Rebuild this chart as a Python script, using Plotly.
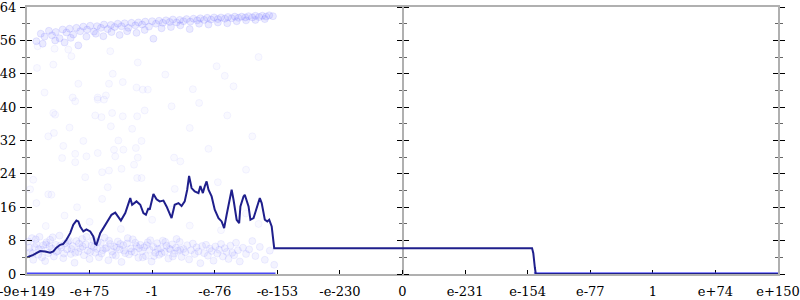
import plotly.graph_objects as go

# ---------------- data ----------------
tick_vals = list(range(13))
tick_text = ["-9e+149", "-e+75", "-1", "-e-76", "-e-153", "-e-230", "0",
             "e-231", "e-154", "e-77", "1", "e+74", "e+150"]

line_x = [0.005, 0.10, 0.21, 0.29, 0.37, 0.42, 0.47, 0.53, 0.58, 0.63, 0.69, 0.74, 0.79, 0.82,
          0.85, 0.90, 0.95, 1.01, 1.06, 1.09, 1.11, 1.17, 1.22, 1.27, 1.35, 1.41, 1.46, 1.50,
          1.57, 1.62, 1.65, 1.68, 1.75, 1.81, 1.86, 1.90, 1.94, 1.96, 2.02, 2.07, 2.12, 2.18,
          2.23, 2.31, 2.36, 2.42, 2.47, 2.52, 2.56, 2.59, 2.63, 2.68, 2.74, 2.77, 2.81, 2.84,
          2.87, 2.90, 2.95, 3.00, 3.06, 3.11, 3.15, 3.19, 3.24, 3.27, 3.30, 3.35, 3.39, 3.41,
          3.46, 3.48, 3.54, 3.57, 3.62, 3.66, 3.70, 3.72, 3.75, 3.80, 3.84, 3.87, 3.91, 3.93,
          3.95, 8.07, 8.09, 8.115, 8.13, 12.0]
line_y = [4.0, 4.6, 5.5, 5.4, 5.1, 5.4, 6.3, 7.0, 7.2, 8.2, 9.8, 11.8, 12.8, 12.6,
          11.4, 10.2, 10.7, 10.2, 9.0, 7.2, 7.0, 9.8, 11.0, 12.2, 14.2, 14.7, 13.6, 12.8,
          14.6, 17.1, 18.2, 16.6, 17.4, 16.6, 14.6, 14.2, 15.8, 15.4, 19.2, 17.9, 17.4, 17.6,
          16.2, 13.4, 16.6, 17.0, 16.3, 17.4, 20.2, 23.5, 20.6, 19.8, 19.4, 21.1, 19.4, 21.0,
          22.2, 20.2, 18.6, 15.4, 13.4, 12.6, 11.0, 14.2, 18.6, 20.2, 17.8, 13.0, 12.2, 16.2,
          18.6, 19.0, 16.2, 13.0, 13.4, 15.4, 17.8, 18.2, 17.0, 13.0, 12.6, 13.0, 11.4, 8.2,
          6.2, 6.2, 5.0, 1.5, 0.0, 0.0]

# upper cluster of samples
top_x = [0.15, 0.22, 0.28, 0.35, 0.40, 0.46, 0.52, 0.57, 0.63, 0.68, 0.74, 0.79, 0.85, 0.90,
         0.96, 1.01, 1.07, 1.12, 1.18, 1.23, 1.29, 1.34, 1.40, 1.45, 1.51, 1.56, 1.62, 1.67,
         1.73, 1.78, 1.84, 1.89, 1.95, 2.00, 2.06, 2.11, 2.17, 2.22, 2.28, 2.33, 2.39, 2.44,
         2.50, 2.55, 2.61, 2.66, 2.72, 2.77, 2.83, 2.88, 2.94, 2.99, 3.05, 3.10, 3.16, 3.21,
         3.27, 3.32, 3.38, 3.43, 3.49, 3.54, 3.60, 3.65, 3.71, 3.76, 3.82, 3.87, 3.93,
         0.25, 0.45, 0.60, 0.70, 0.82, 0.95, 1.10, 1.22, 1.35, 1.48, 1.60, 1.75, 1.88, 2.02,
         2.15, 2.30, 2.45, 2.60, 2.75, 2.90, 3.05, 3.20, 3.35, 3.50, 3.65, 3.80]
top_y = [55.8, 57.6, 56.9, 58.3, 57.2, 58.0, 56.5, 58.6, 57.9, 58.8, 57.4, 59.0, 58.2, 59.3,
         58.6, 59.5, 58.1, 59.4, 59.0, 59.8, 58.7, 59.7, 59.2, 60.0, 59.4, 60.1, 59.0, 60.2,
         59.6, 60.3, 59.8, 60.5, 59.3, 60.6, 60.0, 60.7, 60.2, 60.8, 60.4, 61.0, 60.3, 60.9,
         60.6, 61.1, 60.5, 61.2, 60.8, 61.3, 60.9, 61.4, 61.0, 61.5, 61.1, 61.5, 61.2, 61.6,
         61.3, 61.7, 61.4, 61.7, 61.5, 61.8, 61.5, 61.9, 61.6, 61.9, 61.7, 62.0, 61.8,
         55.2, 56.0, 55.5, 56.6, 54.8, 56.9, 57.6, 57.0, 58.0, 57.3, 58.2, 57.8, 58.5, 56.4,
         58.9, 59.2, 59.6, 58.7, 60.0, 59.8, 60.3, 60.1, 60.6, 60.8, 60.9, 61.1]

# sparse samples in the middle
mid_x = [0.16, 0.17, 0.42, 0.28, 0.44, 0.66, 0.71, 0.82, 0.73, 1.13, 1.26, 1.31, 1.37, 1.33,
         1.77, 1.53, 1.75, 1.93, 1.85, 2.21, 2.65, 3.03, 3.16, 0.77, 0.42, 0.45, 0.34, 0.43,
         0.68, 0.58, 0.90, 0.77, 0.77, 0.56, 0.95, 1.13, 1.09, 1.19, 1.36, 1.34, 1.46, 1.39,
         1.54, 1.41, 1.51, 1.31, 1.20, 0.93, 1.29, 1.53, 1.76, 1.68, 1.83, 1.74, 1.77, 1.71,
         1.76, 1.83, 1.88, 2.31, 2.35, 2.36, 0.10, 0.05, 0.34, 0.39, 1.23, 1.13, 2.60, 2.90,
         3.20, 3.50, 3.30, 3.70, 2.45, 3.05, 2.75, 3.60, 0.30, 0.60, 1.00, 1.50, 2.00, 2.60,
         3.10, 3.50, 0.15, 1.20, 0.80, 2.30, 3.70]
mid_y = [49.4, 54.6, 50.2, 43.5, 54.0, 53.8, 52.2, 45.6, 42.3, 42.3, 42.8, 45.6, 48.0, 53.4,
         50.7, 46.0, 44.7, 44.2, 44.2, 47.8, 44.3, 49.8, 47.5, 41.4, 38.6, 38.2, 33.0, 33.8,
         35.1, 30.7, 31.9, 28.8, 26.8, 27.8, 28.2, 29.0, 38.0, 37.6, 38.6, 35.4, 32.0, 29.8,
         29.8, 28.2, 25.2, 24.8, 24.4, 23.2, 20.8, 37.8, 37.8, 34.8, 31.9, 30.2, 27.9, 26.2,
         23.0, 23.0, 39.2, 40.2, 27.9, 20.4, 22.6, 20.3, 19.1, 19.0, 41.8, 41.8, 35.0, 30.0,
         38.0, 25.0, 45.0, 52.0, 27.0, 22.0, 41.0, 33.0, 11.5, 14.0, 12.5, 10.8, 13.0, 11.6,
         10.5, 14.5, 17.0, 18.0, 16.0, 15.5, 12.0]

# lower cluster of samples
low_x = [0.02, 0.05, 0.08, 0.10, 0.12, 0.15, 0.18, 0.20, 0.23, 0.26, 0.29, 0.31, 0.34, 0.37,
         0.40, 0.43, 0.46, 0.49, 0.52, 0.55, 0.58, 0.61, 0.64, 0.67, 0.70, 0.73, 0.76, 0.79,
         0.82, 0.85, 0.88, 0.91, 0.94, 0.97, 1.00, 1.03, 1.06, 1.09, 1.12, 1.15, 1.18, 1.21,
         1.24, 1.27, 1.30, 1.33, 1.36, 1.39, 1.42, 1.45, 1.48, 1.51, 1.54, 1.57, 1.60, 1.63,
         1.66, 1.69, 1.72, 1.75, 1.78, 1.81, 1.84, 1.87, 1.90, 1.93, 1.96, 1.99, 2.02, 2.05,
         2.08, 2.11, 2.14, 2.17, 2.20, 2.23, 2.26, 2.29, 2.32, 2.35, 2.38, 2.41, 2.44, 2.47,
         2.50, 2.53, 2.56, 2.59, 2.62, 2.65, 2.68, 2.71, 2.74, 2.77, 2.80, 2.83, 2.86, 2.89,
         2.92, 2.95, 2.98, 3.01, 3.04, 3.07, 3.10, 3.13, 3.16, 3.19, 3.22, 3.25, 3.28, 3.31,
         3.34, 3.37, 3.40, 3.45, 3.50, 3.55, 3.60, 3.65, 3.72, 3.80, 3.88, 3.95,
         0.04, 0.09, 0.14, 0.19, 0.24, 0.30, 0.36, 0.41, 0.47, 0.53, 0.59, 0.65, 0.71, 0.77,
         0.83, 0.89, 0.95, 1.01, 1.07, 1.13, 1.19, 1.25, 1.31, 1.37, 1.43, 1.49, 1.55, 1.61,
         1.67, 1.73, 1.79, 1.85, 1.91, 1.97, 2.03, 2.09, 2.15, 2.21, 2.27, 2.33, 2.39, 2.45]
low_y = [7.8, 5.2, 8.6, 3.4, 6.5, 7.2, 4.6, 8.9, 5.8, 6.9, 3.1, 7.6, 5.0, 8.2,
         6.1, 4.2, 7.0, 5.5, 9.2, 6.4, 3.8, 7.4, 5.9, 8.0, 4.8, 6.7, 2.7, 7.9,
         5.3, 6.2, 8.4, 4.5, 7.1, 5.6, 3.6, 6.8, 8.1, 5.1, 6.0, 4.0, 7.5, 5.7,
         8.7, 6.3, 3.3, 7.2, 5.4, 6.6, 4.4, 7.8, 5.9, 2.9, 6.9, 5.0, 7.3, 4.7,
         6.1, 8.3, 5.2, 6.7, 3.9, 7.0, 5.5, 6.4, 4.3, 7.6, 5.8, 3.0, 6.5, 5.1,
         7.4, 4.6, 6.2, 8.0, 5.3, 6.8, 3.7, 5.9, 7.1, 4.9, 6.3, 5.6, 7.7, 4.1,
         6.0, 5.2, 6.9, 3.5, 5.7, 7.3, 4.8, 6.4, 5.4, 2.6, 6.7, 5.0, 7.0, 4.4,
         6.1, 5.5, 3.2, 6.6, 4.9, 5.8, 7.2, 4.2, 6.2, 5.3, 3.6, 6.8, 5.1, 4.5,
         7.5, 5.7, 3.0, 6.3, 4.8, 5.9, 7.9, 4.3, 6.5, 3.4, 5.6, 2.2,
         6.3, 4.9, 8.3, 6.0, 4.0, 7.1, 6.6, 8.8, 5.3, 6.8, 4.9, 7.7, 6.0, 5.1,
         7.3, 6.6, 8.9, 5.3, 6.5, 7.7, 4.9, 6.1, 8.0, 4.6, 6.3, 7.2, 5.6, 8.6,
         5.4, 7.5, 6.2, 4.0, 6.9, 8.1, 4.3, 6.0, 5.0, 7.7, 6.1, 4.2, 8.4, 5.8]

# samples sitting exactly at zero
zero_left_x = [0.0, 3.97]
zero_right_x = [8.10, 12.0]
zero_y = [0.0, 0.0]

# ---------------- figure ----------------
FONT = dict(family="DejaVu Serif", size=13, color="black")
AXIS_GRAY = "#b0b0b0"


def pts(fill_a, edge_a):
    return dict(size=7, color=f"rgba(90,90,255,{fill_a})",
                line=dict(width=1, color=f"rgba(80,80,255,{edge_a})"))


fig = go.Figure()
for xs, ys, mk in [(top_x, top_y, pts(0.12, 0.12)),
                   (mid_x, mid_y, pts(0.035, 0.06)),
                   (low_x, low_y, pts(0.07, 0.08))]:
    fig.add_trace(go.Scatter(x=xs, y=ys, mode="markers", marker=mk,
                             hoverinfo="skip", showlegend=False, cliponaxis=False))
fig.add_trace(go.Scatter(x=zero_left_x, y=zero_y, mode="lines",
                         line=dict(color="rgba(40,40,245,0.85)", width=3),
                         showlegend=False, hoverinfo="skip"))
fig.add_trace(go.Scatter(x=zero_right_x, y=zero_y, mode="lines",
                         line=dict(color="rgba(60,60,250,0.6)", width=4),
                         showlegend=False, hoverinfo="skip"))
fig.add_trace(go.Scatter(x=line_x, y=line_y, mode="lines",
                         line=dict(color="#1f1f8c", width=2),
                         showlegend=False, hoverinfo="skip"))

# dummy traces so that the extra tick axes are drawn
for ax in ["y2", "y3", "y4", "y5", "y6"]:
    fig.add_trace(go.Scatter(x=[None], y=[None], yaxis=ax, showlegend=False,
                             hoverinfo="skip"))

yrange = [0, 64]
ytick = dict(range=yrange, dtick=8, tick0=0, tickcolor="black", ticklen=5, tickwidth=1,
             showgrid=False, zeroline=False, fixedrange=True, automargin=False)
minor_out = dict(dtick=4, tick0=0, ticks="outside", ticklen=3, tickcolor="#666666",
                 showgrid=False)
minor_in = dict(dtick=4, tick0=0, ticks="inside", ticklen=3, tickcolor="#666666",
                showgrid=False)

fig.update_layout(
    width=800, height=300,
    margin=dict(l=27, r=22, t=7, b=26, autoexpand=False),
    paper_bgcolor="white", plot_bgcolor="white",
    font=FONT,
    xaxis=dict(range=[0, 12], tickvals=tick_vals, ticktext=tick_text,
               ticks="inside", ticklen=4, tickcolor="black", tickwidth=1,
               showline=True, linecolor=AXIS_GRAY, linewidth=2, mirror=True,
               showgrid=False, zeroline=False, tickfont=FONT, layer="below traces",
               automargin=False, ticklabelstandoff=4, ticklabeloverflow="allow"),
    yaxis=dict(**ytick, ticks="outside", showline=True, linecolor=AXIS_GRAY, linewidth=2,
               tickfont=FONT, minor=minor_out, layer="below traces", ticklabelstandoff=1,
               ticklabeloverflow="allow"),
    yaxis2=dict(**ytick, ticks="inside", overlaying="y", side="left", anchor="x",
                showticklabels=False, showline=False, minor=minor_in),
    yaxis3=dict(**ytick, ticks="outside", overlaying="y", side="right", anchor="x",
                showticklabels=False, showline=True, linecolor=AXIS_GRAY, linewidth=2,
                minor=minor_out, layer="below traces"),
    yaxis4=dict(**ytick, ticks="inside", overlaying="y", side="right", anchor="x",
                showticklabels=False, showline=False, minor=minor_in),
    yaxis5=dict(**ytick, ticks="outside", overlaying="y", side="left", anchor="free",
                position=0.5, showticklabels=False, showline=True, linecolor=AXIS_GRAY,
                linewidth=2, minor=minor_out, layer="below traces"),
    yaxis6=dict(**ytick, ticks="outside", overlaying="y", side="right", anchor="free",
                position=0.5, showticklabels=False, showline=False, minor=minor_out),
)

fig.write_html("out.html")
